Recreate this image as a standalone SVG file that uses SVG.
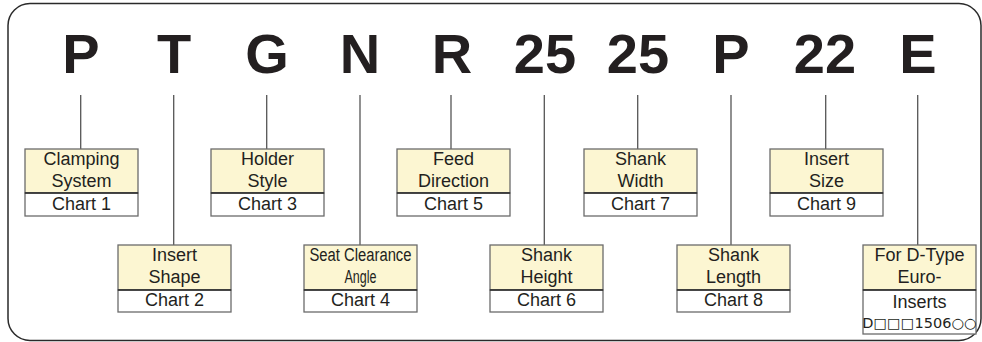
<svg xmlns="http://www.w3.org/2000/svg" width="982" height="342" viewBox="0 0 982 342">
<style>
.frame{fill:none;stroke:#2a2a2a;stroke-width:1.5}
.big{font-family:"Liberation Sans",Arial,sans-serif;font-weight:bold;font-size:56px;fill:#231f20;text-anchor:middle}
.con line{stroke:#555;stroke-width:1.3}
.top{fill:#fcf6d2;stroke:#6b6b6b;stroke-width:1.3}
.bot{fill:#fff;stroke:#6b6b6b;stroke-width:1.3}
.div{stroke:#2a2a2a;stroke-width:1.5}
.t{font-family:"Liberation Sans",Arial,"DejaVu Sans",sans-serif;font-size:18px;fill:#231f20;text-anchor:middle}
.code{font-family:"DejaVu Sans",sans-serif;font-size:14.5px;fill:#231f20;text-anchor:middle}
</style>
<rect class="frame" x="8" y="3.5" width="973" height="337" rx="22" ry="22"/>
<g id="code">
<text class="big" x="81" y="73">P</text>
<text class="big" x="174" y="73">T</text>
<text class="big" x="267" y="73">G</text>
<text class="big" x="360" y="73">N</text>
<text class="big" x="452" y="73">R</text>
<text class="big" x="545" y="73">25</text>
<text class="big" x="638" y="73">25</text>
<text class="big" x="731" y="73">P</text>
<text class="big" x="825" y="73">22</text>
<text class="big" x="918" y="73">E</text>
</g>
<g class="con" id="connectors">
<line x1="80.7" y1="95" x2="80.7" y2="149"/>
<line x1="173.7" y1="95" x2="173.7" y2="245"/>
<line x1="266.7" y1="95" x2="266.7" y2="149"/>
<line x1="360" y1="95" x2="360" y2="245"/>
<line x1="451" y1="95" x2="451" y2="149"/>
<line x1="544.3" y1="95" x2="544.3" y2="245"/>
<line x1="637.7" y1="95" x2="637.7" y2="149"/>
<line x1="731" y1="95" x2="731" y2="245"/>
<line x1="825.7" y1="95" x2="825.7" y2="149"/>
<line x1="917.7" y1="95" x2="917.7" y2="245"/>
</g>
<g id="n1">
<rect class="top" x="25" y="149" width="113" height="44"/><rect class="bot" x="25" y="193" width="113" height="23"/><line class="div" x1="25" y1="193" x2="138" y2="193"/>
<text class="t" x="81.5" y="165">Clamping</text><text class="t" x="81.5" y="187">System</text><text class="t" x="81.5" y="210">Chart 1</text>
</g>
<g id="n2">
<rect class="top" x="118" y="245" width="113" height="45"/><rect class="bot" x="118" y="290" width="113" height="22"/><line class="div" x1="118" y1="290" x2="231" y2="290"/>
<text class="t" x="174.5" y="261">Insert</text><text class="t" x="174.5" y="283">Shape</text><text class="t" x="174.5" y="306">Chart 2</text>
</g>
<g id="n3">
<rect class="top" x="211" y="149" width="113" height="44"/><rect class="bot" x="211" y="193" width="113" height="23"/><line class="div" x1="211" y1="193" x2="324" y2="193"/>
<text class="t" x="267.5" y="165">Holder</text><text class="t" x="267.5" y="187">Style</text><text class="t" x="267.5" y="210">Chart 3</text>
</g>
<g id="n4">
<rect class="top" x="304" y="245" width="113" height="45"/><rect class="bot" x="304" y="290" width="113" height="22"/><line class="div" x1="304" y1="290" x2="417" y2="290"/>
<text class="t" x="360.5" y="261" font-size="17" textLength="102" lengthAdjust="spacingAndGlyphs">Seat Clearance</text><text class="t" x="360.5" y="283" font-size="17" textLength="32" lengthAdjust="spacingAndGlyphs">Angle</text><text class="t" x="360.5" y="306">Chart 4</text>
</g>
<g id="n5">
<rect class="top" x="397" y="149" width="113" height="44"/><rect class="bot" x="397" y="193" width="113" height="23"/><line class="div" x1="397" y1="193" x2="510" y2="193"/>
<text class="t" x="453.5" y="165">Feed</text><text class="t" x="453.5" y="187">Direction</text><text class="t" x="453.5" y="210">Chart 5</text>
</g>
<g id="n6">
<rect class="top" x="490" y="245" width="113" height="45"/><rect class="bot" x="490" y="290" width="113" height="22"/><line class="div" x1="490" y1="290" x2="603" y2="290"/>
<text class="t" x="546.5" y="261">Shank</text><text class="t" x="546.5" y="283">Height</text><text class="t" x="546.5" y="306">Chart 6</text>
</g>
<g id="n7">
<rect class="top" x="584" y="149" width="113" height="44"/><rect class="bot" x="584" y="193" width="113" height="23"/><line class="div" x1="584" y1="193" x2="697" y2="193"/>
<text class="t" x="640.5" y="165">Shank</text><text class="t" x="640.5" y="187">Width</text><text class="t" x="640.5" y="210">Chart 7</text>
</g>
<g id="n8">
<rect class="top" x="677" y="245" width="113" height="45"/><rect class="bot" x="677" y="290" width="113" height="22"/><line class="div" x1="677" y1="290" x2="790" y2="290"/>
<text class="t" x="733.5" y="261">Shank</text><text class="t" x="733.5" y="283">Length</text><text class="t" x="733.5" y="306">Chart 8</text>
</g>
<g id="n9">
<rect class="top" x="770" y="149" width="113" height="44"/><rect class="bot" x="770" y="193" width="113" height="23"/><line class="div" x1="770" y1="193" x2="883" y2="193"/>
<text class="t" x="826.5" y="165">Insert</text><text class="t" x="826.5" y="187">Size</text><text class="t" x="826.5" y="210">Chart 9</text>
</g>
<g id="n10">
<rect class="top" x="863" y="245" width="113" height="45"/><rect class="bot" x="863" y="290" width="113" height="44"/><line class="div" x1="863" y1="290" x2="976" y2="290"/>
<text class="t" x="919.5" y="261">For D-Type</text><text class="t" x="919.5" y="283">Euro-</text><text class="t" x="919.5" y="308">Inserts</text>
<text class="code" x="919.5" y="328">D□□□1506○○</text>
</g>
</svg>
